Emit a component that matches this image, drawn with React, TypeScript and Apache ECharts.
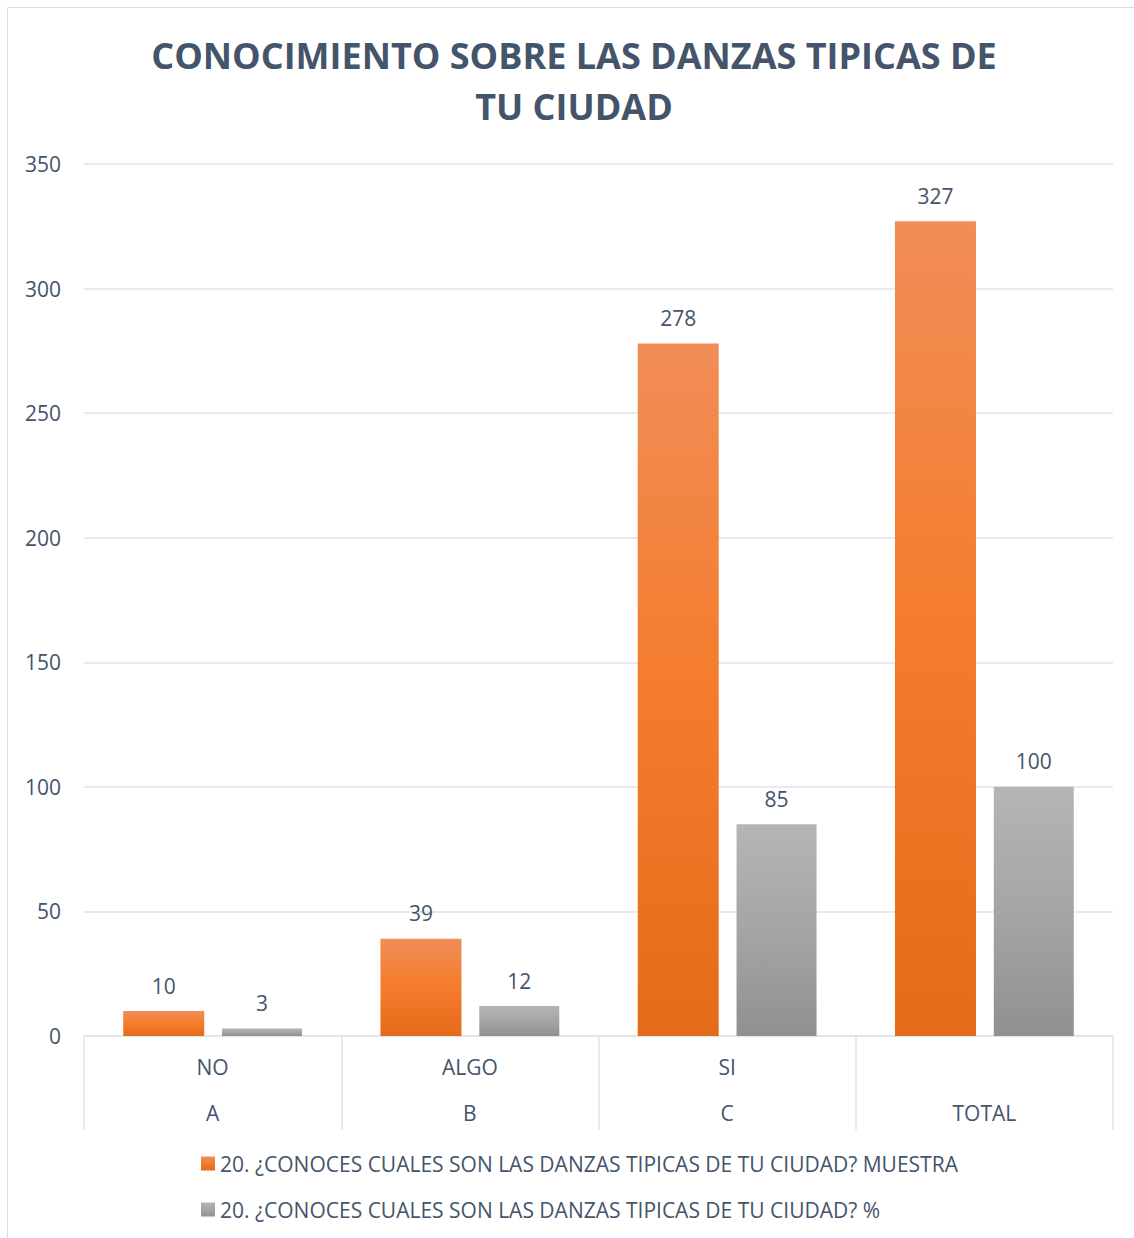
import React, { useEffect, useRef } from "react";
import * as echarts from "echarts";

const categories = ["A", "B", "C", "TOTAL"];
const subLabels = ["NO", "ALGO", "SI", ""];
const muestra = [10, 39, 278, 327];
const porcentaje = [3, 12, 85, 100];
const seriesNames = [
  "20. ¿CONOCES CUALES SON LAS DANZAS TIPICAS DE TU CIUDAD? MUESTRA",
  "20. ¿CONOCES CUALES SON LAS DANZAS TIPICAS DE TU CIUDAD? %",
];
const titleLines = ["CONOCIMIENTO SOBRE LAS DANZAS TIPICAS DE", "TU CIUDAD"];
const yMin = 0;
const yMax = 350;
const yStep = 50;

const FONT = "'Open Sans', sans-serif";
const TEXT = "#44546a";
const GRIDC = "#dfe3e8";
const FS = 21;

export default function App() {
  const ref = useRef<HTMLDivElement>(null);
  useEffect(() => {
    if (!ref.current) return;
    const chart = echarts.init(ref.current, null, { renderer: "svg" });
    const orange = new echarts.graphic.LinearGradient(0, 0, 0, 1, [
      { offset: 0, color: "#f18d57" },
      { offset: 0.5, color: "#f47c2c" },
      { offset: 1, color: "#e36b1a" },
    ]);
    const gray = new echarts.graphic.LinearGradient(0, 0, 0, 1, [
      { offset: 0, color: "#b5b5b5" },
      { offset: 0.5, color: "#a5a5a5" },
      { offset: 1, color: "#909090" },
    ]);
    const labelCfg = {
      show: true,
      position: "top",
      distance: 15,
      color: TEXT,
      fontFamily: FONT,
      fontSize: FS,
    };
    chart.setOption({
      animation: false,
      backgroundColor: "#ffffff",
      textStyle: { fontFamily: FONT },
      title: {
        text: titleLines.join("\n"),
        left: 569,
        top: 25,
        textAlign: "center",
        textStyle: {
          fontFamily: FONT,
          fontWeight: "bold",
          fontSize: 36,
          lineHeight: 51,
          color: TEXT,
        },
      },
      graphic: [
        {
          type: "rect",
          shape: { x: 7.5, y: 7.5, width: 1140, height: 1240 },
          style: { fill: "none", stroke: "#d9dde2", lineWidth: 1 },
          silent: true,
        },
      ],
      grid: { left: 84, right: 21, top: 164, bottom: 202, containLabel: false },
      legend: {
        orient: "vertical",
        left: 196,
        top: 1148,
        itemWidth: 14,
        itemHeight: 14,
        itemGap: 25,
        icon: "rect",
        textStyle: { color: TEXT, fontFamily: FONT, fontSize: FS },
        data: seriesNames,
      },
      xAxis: {
        type: "category",
        data: categories,
        boundaryGap: true,
        axisLine: { show: true, lineStyle: { color: GRIDC, width: 1.5 } },
        axisTick: {
          show: true,
          alignWithLabel: false,
          length: 94,
          lineStyle: { color: GRIDC, width: 1.5 },
        },
        axisLabel: {
          color: TEXT,
          fontFamily: FONT,
          fontSize: FS,
          lineHeight: 46,
          margin: 8,
          interval: 0,
          formatter: (v: string, i: number) => `${subLabels[i]}\n${v}`,
        },
      },
      yAxis: {
        type: "value",
        min: yMin,
        max: yMax,
        interval: yStep,
        axisLine: { show: false },
        axisTick: { show: false },
        splitLine: { lineStyle: { color: GRIDC, width: 1.5 } },
        axisLabel: { color: TEXT, fontFamily: FONT, fontSize: FS, margin: 23 },
      },
      series: [
        {
          name: seriesNames[0],
          type: "bar",
          data: muestra,
          barWidth: 81,
          barGap: "22%",
          itemStyle: { color: orange },
          label: labelCfg,
        },
        {
          name: seriesNames[1],
          type: "bar",
          data: porcentaje,
          barWidth: 80,
          itemStyle: { color: gray },
          label: labelCfg,
        },
      ],
    });
    return () => chart.dispose();
  }, []);
  return (
    <div
      ref={ref}
      style={{ position: "fixed", left: 0, top: 0, width: 1134, height: 1238 }}
    />
  );
}
